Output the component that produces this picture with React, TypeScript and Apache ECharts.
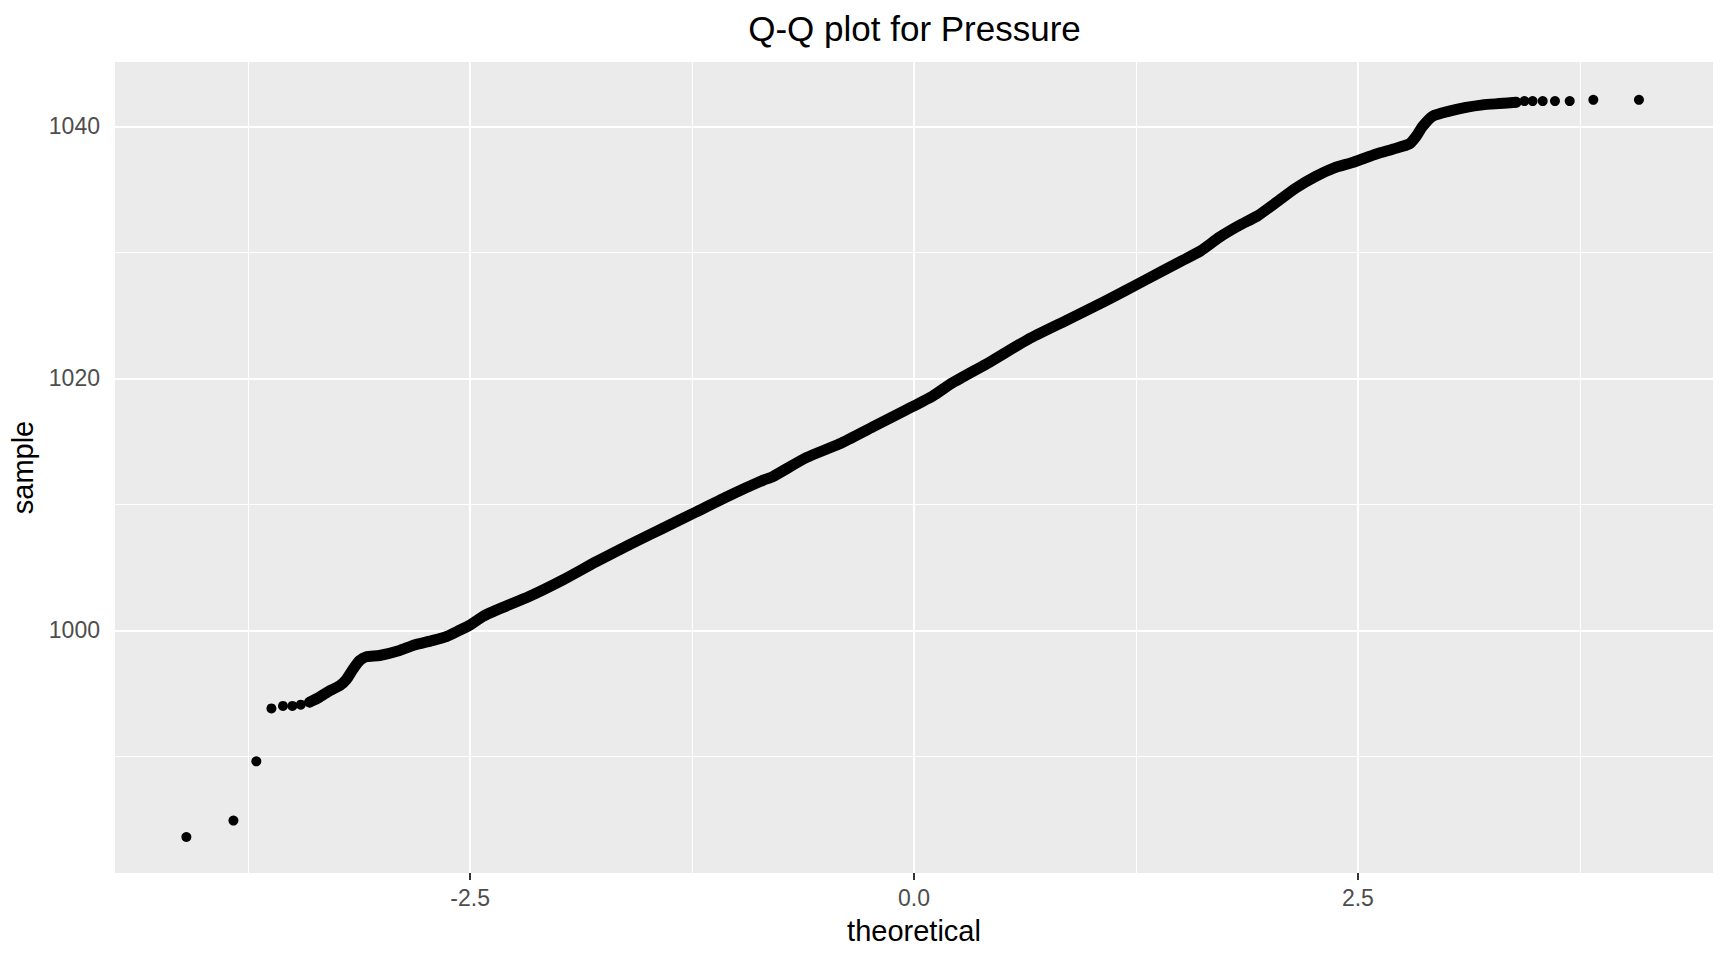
import React, { useEffect, useRef } from "react";
import * as echarts from "echarts";

// Lower tail: individually visible points
const lowerTailTheoretical = [-4.098, -3.833, -3.704, -3.619, -3.554, -3.501, -3.454];
const lowerTailSample = [983.6, 984.9, 989.6, 993.8, 994.0, 994.0, 994.1];

// Dense body of the Q-Q points
const bodyTheoretical = [
  -3.404, -3.348, -3.291, -3.235, -3.197, -3.16, -3.122, -3.085, -3.01, -2.897,
  -2.822, -2.709, -2.634, -2.56, -2.503, -2.428, -2.352, -2.165, -1.977, -1.789,
  -1.602, -1.414, -1.226, -1.039, -0.851, -0.795, -0.607, -0.419, -0.232, -0.044,
  0.106, 0.212, 0.428, 0.644, 0.859, 1.074, 1.29, 1.505, 1.613, 1.721,
  1.828, 1.936, 2.044, 2.151, 2.26, 2.367, 2.475, 2.604, 2.7, 2.79,
  2.828, 2.865, 2.921, 3.015, 3.109, 3.203, 3.297, 3.391,
];
const bodySample = [
  994.3, 994.7, 995.2, 995.6, 996.1, 996.9, 997.6, 997.9, 998.0, 998.4,
  998.8, 999.2, 999.5, 1000.0, 1000.4, 1001.1, 1001.6, 1002.7, 1004.0, 1005.45,
  1006.8, 1008.1, 1009.4, 1010.7, 1011.9, 1012.2, 1013.7, 1014.8, 1016.15, 1017.5,
  1018.6, 1019.6, 1021.3, 1023.1, 1024.6, 1026.1, 1027.7, 1029.3, 1030.1, 1031.2,
  1032.1, 1032.9, 1034.0, 1035.1, 1036.0, 1036.7, 1037.15, 1037.8, 1038.2, 1038.6,
  1039.2, 1040.0, 1040.8, 1041.2, 1041.5, 1041.7, 1041.8, 1041.9,
];

// Upper tail: individually visible points
const upperTailTheoretical = [3.438, 3.484, 3.541, 3.61, 3.693, 3.826, 4.083];
const upperTailSample = [1042.0, 1042.0, 1042.0, 1042.0, 1042.0, 1042.1, 1042.1];

// Axes
const xRange = [-4.5, 4.5];
const yRange = [980.74, 1045.1];
const xTicks = [-2.5, 0, 2.5];
const xMinorGrid = [-3.75, -1.25, 1.25, 3.75];
const yTicks = [1000, 1020, 1040];
const yMinorGrid = [990, 1010, 1030];

const FONT = "'Liberation Sans', Arial, Helvetica, sans-serif";

const pairs = (xs: number[], ys: number[]) => xs.map((x, i) => [x, ys[i]]);

export default function App() {
  const ref = useRef<HTMLDivElement>(null);

  useEffect(() => {
    if (!ref.current) return;
    const chart = echarts.init(ref.current, undefined, { renderer: "svg" });

    const body = pairs(bodyTheoretical, bodySample);
    const allPoints = [
      ...pairs(lowerTailTheoretical, lowerTailSample),
      ...body,
      ...pairs(upperTailTheoretical, upperTailSample),
    ];

    const gridLines = [
      ...xTicks.map((v) => ({ xAxis: v, lineStyle: { width: 2 } })),
      ...xMinorGrid.map((v) => ({ xAxis: v, lineStyle: { width: 1.1 } })),
      ...yTicks.map((v) => ({ yAxis: v, lineStyle: { width: 2 } })),
      ...yMinorGrid.map((v) => ({ yAxis: v, lineStyle: { width: 1.1 } })),
    ];

    const option: any = {
      animation: false,
      backgroundColor: "#FFFFFF",
      textStyle: { fontFamily: FONT },
      title: {
        text: "Q-Q plot for Pressure",
        left: 914.5,
        top: 11,
        padding: 0,
        textAlign: "center",
        textStyle: { fontSize: 35, fontWeight: "normal", color: "#000000", fontFamily: FONT },
      },
      grid: {
        left: 115,
        right: 15,
        top: 62,
        bottom: 87,
        show: true,
        backgroundColor: "#EBEBEB",
        borderWidth: 0,
        containLabel: false,
        outerBoundsMode: "none",
      },
      xAxis: {
        type: "value",
        min: xRange[0],
        max: xRange[1],
        name: "theoretical",
        nameLocation: "middle",
        nameGap: 43,
        nameTextStyle: { fontSize: 29, color: "#000000", fontFamily: FONT },
        axisLine: { show: false },
        axisTick: {
          show: true,
          customValues: xTicks,
          length: 7,
          lineStyle: { color: "#333333", width: 2 },
        },
        axisLabel: {
          customValues: xTicks,
          formatter: (v: number) => v.toFixed(1),
          fontSize: 23,
          color: "#4D4D4D",
          margin: 13,
          fontFamily: FONT,
        },
        splitLine: { show: false },
      },
      yAxis: {
        type: "value",
        min: yRange[0],
        max: yRange[1],
        name: "sample",
        nameLocation: "middle",
        nameRotate: 90,
        nameGap: 68,
        nameTextStyle: { fontSize: 29, color: "#000000", fontFamily: FONT },
        axisLine: { show: false },
        axisTick: {
          show: true,
          customValues: yTicks,
          length: 7,
          lineStyle: { color: "#333333", width: 2 },
        },
        axisLabel: {
          customValues: yTicks,
          formatter: (v: number) => String(Math.round(v)),
          fontSize: 23,
          color: "#4D4D4D",
          margin: 15,
          fontFamily: FONT,
        },
        splitLine: { show: false },
      },
      series: [
        {
          type: "line",
          data: body,
          showSymbol: false,
          silent: true,
          smooth: 0.2,
          z: 2,
          lineStyle: { color: "#000000", width: 11, cap: "round", join: "round", opacity: 1 },
          markLine: {
            silent: true,
            z: 1,
            symbol: ["none", "none"],
            label: { show: false },
            lineStyle: { color: "#FFFFFF", type: "solid" },
            emphasis: { disabled: true },
            data: gridLines,
          },
        },
        {
          type: "scatter",
          data: allPoints,
          symbol: "circle",
          symbolSize: 10,
          z: 3,
          silent: true,
          itemStyle: { color: "#000000", opacity: 1 },
        },
      ],
    };

    chart.setOption(option);
    return () => chart.dispose();
  }, []);

  return (
    <div
      ref={ref}
      style={{ position: "fixed", left: 0, top: 0, width: 1728, height: 960 }}
    />
  );
}
